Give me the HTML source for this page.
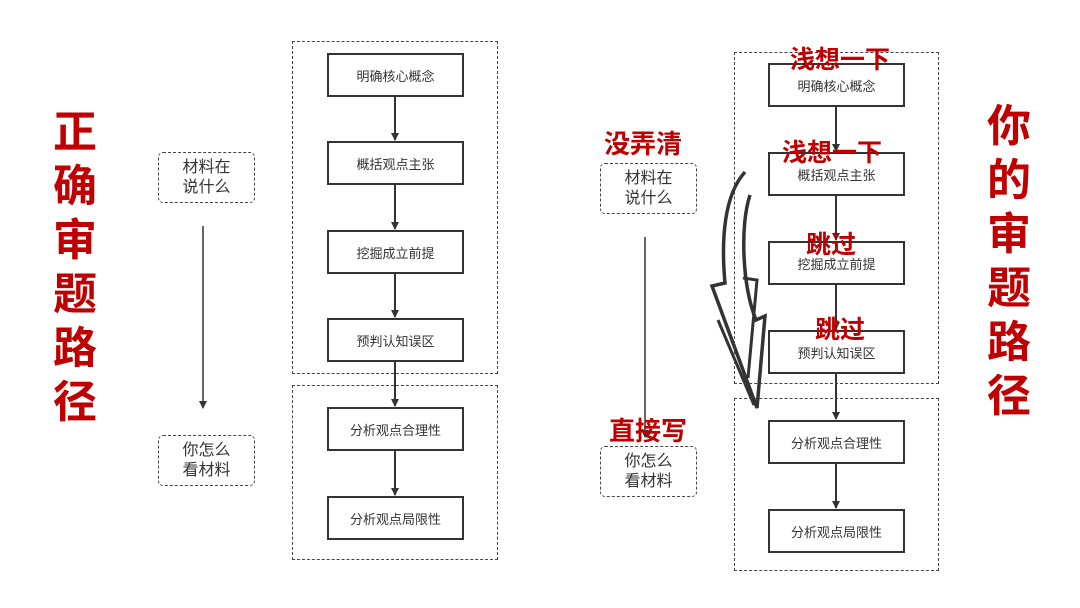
<html><head><style>
body{margin:0;width:1080px;height:608px;background:#fff;position:relative;overflow:hidden;font-family:"Liberation Sans","Noto Sans CJK SC",sans-serif}
.d{position:absolute;border:1.5px dashed #444;box-sizing:border-box}
.n{position:absolute;width:137px;height:44px;border:2px solid #333;box-sizing:border-box;display:flex;align-items:center;justify-content:center;font-size:13px;color:#333;background:#fff}
.s{position:absolute;width:97px;height:51px;border:1.5px dashed #444;border-radius:5px;box-sizing:border-box;display:flex;align-items:center;justify-content:center;text-align:center;font-size:16px;line-height:20px;color:#333}
.r{position:absolute;color:#c00000;font-weight:bold;white-space:nowrap}
.v{position:absolute;color:#c00000;font-weight:bold;font-size:44px;line-height:54px;width:50px;text-align:center}
</style></head><body>
<svg width="1080" height="608" style="position:absolute;left:0;top:0">
<defs><marker id="a" markerWidth="8" markerHeight="8" refX="7" refY="4" orient="auto" markerUnits="userSpaceOnUse"><path d="M0,0L8,4L0,8z" fill="#333"/></marker></defs>
<g stroke="#333" stroke-width="2" marker-end="url(#a)">
<line x1="395" y1="96" x2="395" y2="140"/><line x1="395" y1="184" x2="395" y2="229"/><line x1="395" y1="273" x2="395" y2="317"/><line x1="395" y1="362" x2="395" y2="406"/><line x1="395" y1="451" x2="395" y2="495"/>
<line x1="836" y1="106" x2="836" y2="151"/><line x1="836" y1="195" x2="836" y2="240"/><line x1="836" y1="284" x2="836" y2="329"/><line x1="836" y1="373" x2="836" y2="419"/><line x1="836" y1="462" x2="836" y2="508"/>
<line x1="203" y1="226" x2="203" y2="408" stroke-width="1.5"/><line x1="645" y1="237" x2="645" y2="437" stroke-width="1.5"/>
</g>
<path d="M745,172 C724,195 721,240 725,283 L712,286 L757,408 L765,316 L756,320 C742,285 740,225 750,195" fill="#fff" stroke="#333" stroke-width="3.5" stroke-linejoin="miter"/>
<path d="M743,278 L757,280 L748,378" fill="none" stroke="#333" stroke-width="3"/>
<path d="M718,320 L754,405" fill="none" stroke="#333" stroke-width="3"/>
</svg>
<div class="d" style="left:292px;top:41px;width:206px;height:333px"></div>
<div class="d" style="left:292px;top:385px;width:206px;height:175px"></div>
<div class="n" style="left:327px;top:53px">明确核心概念</div>
<div class="n" style="left:327px;top:141px">概括观点主张</div>
<div class="n" style="left:327px;top:230px">挖掘成立前提</div>
<div class="n" style="left:327px;top:318px">预判认知误区</div>
<div class="n" style="left:327px;top:407px">分析观点合理性</div>
<div class="n" style="left:327px;top:496px">分析观点局限性</div>
<div class="s" style="left:158px;top:152px">材料在<br>说什么</div>
<div class="s" style="left:158px;top:435px">你怎么<br>看材料</div>
<div class="v" style="left:50px;top:106px">正确审题路径</div>

<div class="d" style="left:734px;top:52px;width:205px;height:332px"></div>
<div class="d" style="left:734px;top:398px;width:205px;height:173px"></div>
<div class="n" style="left:768px;top:63px">明确核心概念</div>
<div class="n" style="left:768px;top:152px">概括观点主张</div>
<div class="n" style="left:768px;top:241px">挖掘成立前提</div>
<div class="n" style="left:768px;top:330px">预判认知误区</div>
<div class="n" style="left:768px;top:420px">分析观点合理性</div>
<div class="n" style="left:768px;top:509px">分析观点局限性</div>
<div class="s" style="left:600px;top:163px">材料在<br>说什么</div>
<div class="s" style="left:600px;top:446px">你怎么<br>看材料</div>
<div class="r" style="left:604px;top:124px;font-size:26px">没弄清</div>
<div class="r" style="left:609px;top:411px;font-size:26px">直接写</div>
<div class="r" style="left:790px;top:40px;font-size:25px">浅想一下</div>
<div class="r" style="left:782px;top:133px;font-size:25px">浅想一下</div>
<div class="r" style="left:806px;top:225px;font-size:25px">跳过</div>
<div class="r" style="left:815px;top:310px;font-size:25px">跳过</div>
<div class="v" style="left:984px;top:100px">你的审题路径</div>
</body></html>
